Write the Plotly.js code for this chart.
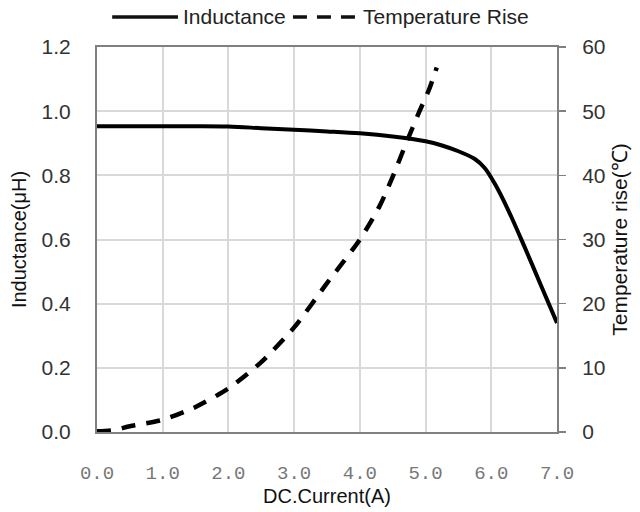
<!DOCTYPE html>
<html><head><meta charset="utf-8">
<script src="https://cdn.plot.ly/plotly-3.0.1.min.js"></script>
<style>html,body{margin:0;padding:0;background:#fff}#chart{width:640px;height:512px}</style>
</head><body><div id="chart"></div>
<script>
const indCurrent = [0, 0.5, 1.0, 1.5, 2.0, 2.5, 3.0, 3.5, 4.0, 4.5, 5.0, 5.25, 5.5, 5.75, 5.9, 6.05, 6.25, 6.5, 6.75, 7.0];
const inductance = [0.953, 0.953, 0.953, 0.953, 0.952, 0.947, 0.942, 0.937, 0.931, 0.921, 0.906, 0.893, 0.875, 0.851, 0.823, 0.775, 0.695, 0.58, 0.46, 0.34];
const tempCurrent = [0, 0.25, 0.5, 1.0, 1.5, 2.0, 2.5, 3.0, 3.5, 4.0, 4.3, 4.5, 4.7, 4.9, 5.05, 5.17];
const tempRise = [0.1, 0.3, 0.9, 1.9, 3.9, 6.8, 10.9, 16.3, 23.2, 30.0, 35.2, 39.8, 44.9, 49.8, 53.3, 56.8];
const xTickVals = [0, 1, 2, 3, 4, 5, 6, 7];
const xTickText = ["0.0", "1.0", "2.0", "3.0", "4.0", "5.0", "6.0", "7.0"];
const seriesNames = ['Inductance', 'Temperature Rise'];

const traces = [
  {x: indCurrent, y: inductance, name: seriesNames[0], type: 'scatter', mode: 'lines',
   line: {color: '#000', width: 4, shape: 'spline', smoothing: 0.9}, yaxis: 'y', showlegend: false},
  {x: tempCurrent, y: tempRise, name: seriesNames[1], type: 'scatter', mode: 'lines',
   line: {color: '#000', width: 4.5, dash: '14px,11px', shape: 'spline', smoothing: 0.7}, yaxis: 'y2', showlegend: false}
];

// manual legend drawn in paper coordinates (above the plot)
const legY = 1.078;
const shapes = [
  {type: 'line', xref: 'paper', yref: 'paper', x0: 0.033, x1: 0.176, y0: legY, y1: legY,
   line: {color: '#111', width: 3.5}},
  {type: 'line', xref: 'paper', yref: 'paper', x0: 0.426, x1: 0.561, y0: legY, y1: legY,
   line: {color: '#111', width: 3.5, dash: '14px,10px'}}
];
const annotations = [
  {xref: 'paper', yref: 'paper', x: 0.183, y: legY, xanchor: 'left', yanchor: 'middle', showarrow: false,
   text: seriesNames[0], font: {size: 21, color: '#222'}},
  {xref: 'paper', yref: 'paper', x: 0.574, y: legY, xanchor: 'left', yanchor: 'middle', showarrow: false,
   text: seriesNames[1], font: {size: 21, color: '#222'}}
];

const layout = {
  width: 640, height: 512,
  margin: {l: 97, r: 83, t: 47, b: 80},
  paper_bgcolor: '#fff', plot_bgcolor: '#fff',
  font: {family: 'Liberation Sans, Arial, sans-serif', color: '#222', size: 21},
  showlegend: false,
  shapes: shapes, annotations: annotations,
  xaxis: {range: [0, 7], tickvals: xTickVals, ticktext: xTickText,
          tickfont: {family: 'Liberation Mono, monospace', size: 19, color: '#777'},
          ticklabelstandoff: 22,
          showgrid: true, gridcolor: '#d9d9d9', gridwidth: 2,
          showline: true, linecolor: '#808080', linewidth: 2, mirror: true, zeroline: false,
          title: {text: 'DC.Current(A)', font: {size: 20, color: '#111'}, standoff: 0}},
  yaxis: {range: [0, 1.2], dtick: 0.2, tickformat: '.1f',
          tickfont: {size: 21, color: '#333'},
          showgrid: true, gridcolor: '#d9d9d9', gridwidth: 2,
          showline: true, linecolor: '#808080', linewidth: 2, mirror: true, zeroline: false,
          ticklabelstandoff: 20,
          title: {text: 'Inductance(μH)', font: {size: 20, color: '#111'}, standoff: 10}},
  yaxis2: {range: [0, 60], dtick: 10, overlaying: 'y', side: 'right',
           tickfont: {size: 21, color: '#333'},
           showgrid: false, zeroline: false, showline: true, linecolor: '#808080', linewidth: 2,
           ticks: 'outside', ticklen: 7, tickcolor: '#808080', tickwidth: 1.5, ticklabelstandoff: 12,
           title: {text: 'Temperature rise(℃)', font: {size: 21, color: '#111'}, standoff: 8}}
};
Plotly.newPlot('chart', traces, layout, {displayModeBar: false, staticPlot: true});
</script></body></html>
